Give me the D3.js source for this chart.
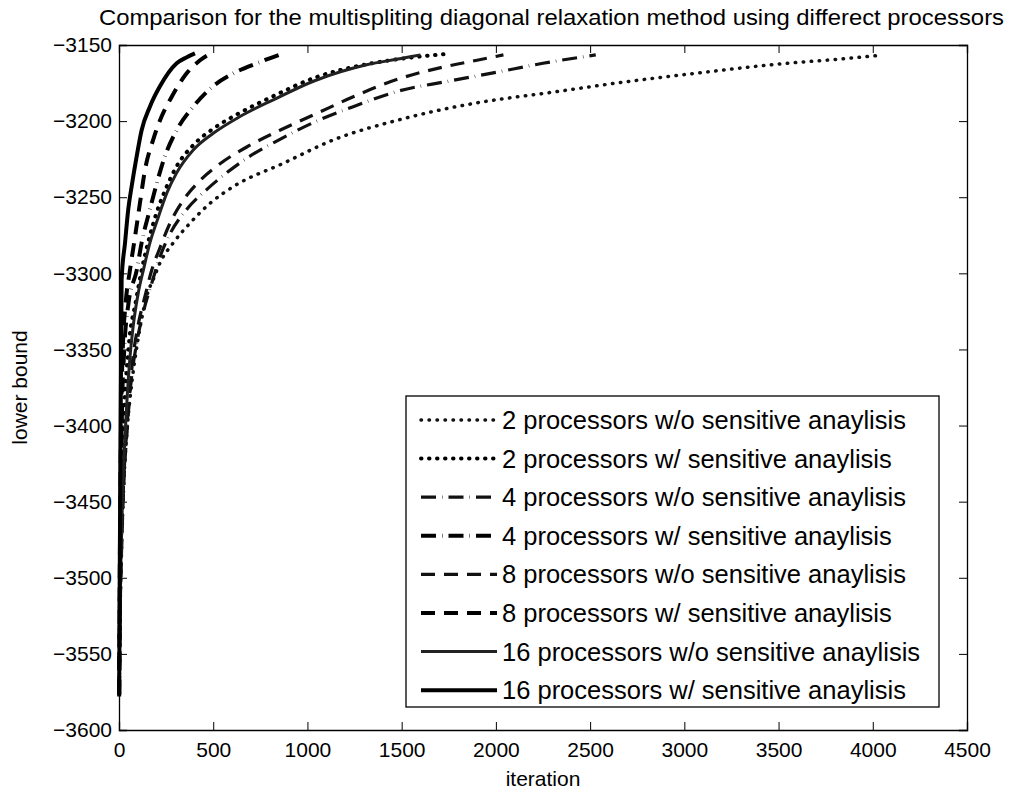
<!DOCTYPE html>
<html>
<head>
<meta charset="utf-8">
<script src="https://cdn.jsdelivr.net/npm/d3@7"></script>
<style>
  body { margin: 0; background: #fff; }
  svg { display: block; font-family: "Liberation Sans", Arial, sans-serif; }
</style>
</head>
<body>
<script>
// series (iteration, lower bound)
const iter2wo = [1, 5, 12, 25, 45, 70, 100, 120, 147, 185, 218, 288, 377, 483, 607, 872, 1137, 1491, 1703, 1900, 2300, 2700, 3100, 3500, 3800, 4020];
const val2wo = [-3575, -3530, -3490, -3440, -3400, -3370, -3344, -3330, -3315, -3303, -3293, -3280, -3267, -3254, -3243, -3227.7, -3212.4, -3199, -3192.7, -3188, -3181, -3174, -3168, -3162.5, -3159.5, -3157];

const iter2w = [1, 5, 12, 25, 50, 90, 120, 160, 200, 250, 300, 400, 500, 650, 820, 1050, 1300, 1500, 1733];
const val2w = [-3576, -3520, -3460, -3400, -3350, -3318, -3298, -3277, -3260, -3244, -3231, -3215, -3205, -3194, -3183.5, -3171, -3163, -3159, -3156];

const iter4wo = [1, 4, 10, 22, 40, 65, 95, 130, 173.5, 218, 271, 359, 465, 571, 695, 854, 1031, 1243, 1491, 1739, 2000, 2250, 2530];
const val4wo = [-3576, -3535, -3495, -3445, -3405, -3370, -3345, -3325, -3306.6, -3289, -3274, -3258, -3245, -3234, -3223, -3212, -3201, -3190.5, -3180, -3174, -3168, -3162, -3156.5];

const iter4w = [1, 4, 9, 16, 28, 50, 94, 120, 164, 200, 244, 306, 394, 500, 607, 731, 872];
const val4w = [-3577, -3520, -3450, -3390, -3350, -3320, -3298, -3280, -3258, -3241, -3223, -3206, -3190.5, -3177, -3168.6, -3162, -3155.5];

const iter8wo = [1, 5, 12, 25, 45, 70, 100, 138, 173.5, 218, 271, 341, 430, 536, 678, 854, 1049, 1243, 1491, 1739, 1900, 2040];
const val8wo = [-3575, -3530, -3490, -3440, -3400, -3360, -3335, -3315, -3298, -3283, -3267, -3252, -3239, -3228, -3217, -3206, -3195, -3184, -3172, -3164, -3160, -3156.5];

const iter8w = [1, 3, 7, 12, 20, 35, 58, 85, 111, 138, 182, 226, 280, 359, 430, 495];
const val8w = [-3576, -3520, -3450, -3390, -3350, -3320, -3298, -3276, -3254, -3232, -3212, -3197, -3184, -3168.6, -3160, -3155];

const iter16wo = [1, 4, 10, 20, 35, 55, 75, 102, 129, 164, 209, 253, 306, 394, 500, 642, 819, 1049, 1314, 1490, 1600];
const val16wo = [-3575, -3530, -3490, -3440, -3400, -3360, -3335, -3313, -3298, -3280, -3263, -3247.5, -3234, -3219, -3208, -3197, -3186, -3173, -3163, -3159, -3156.5];

const iter16w = [1, 3, 6, 9, 12, 14, 32, 49, 67, 94, 120, 164, 218, 306, 360, 403];
const val16w = [-3578, -3520, -3450, -3390, -3340, -3304, -3280, -3258, -3243, -3223, -3206, -3190.5, -3177, -3162, -3158, -3155.5];

const labels = [
  "2 processors w/o sensitive anaylisis",
  "2 processors w/ sensitive anaylisis",
  "4 processors w/o sensitive anaylisis",
  "4 processors w/ sensitive anaylisis",
  "8 processors w/o sensitive anaylisis",
  "8 processors w/ sensitive anaylisis",
  "16 processors w/o sensitive anaylisis",
  "16 processors w/ sensitive anaylisis"
];
const xTicks = [0, 500, 1000, 1500, 2000, 2500, 3000, 3500, 4000, 4500];
const yTicks = [-3600, -3550, -3500, -3450, -3400, -3350, -3300, -3250, -3200, -3150];

const width = 1011, height = 792;
const margin = { top: 45, right: 44, bottom: 62, left: 119 };

const dotted = "0.5,7.5", dashdot = "15,6,0.5,6", dashed = "14,9";
const series = [
  { it: iter2wo, v: val2wo, dash: dotted, w: 3.5, c: "#111" },
  { it: iter2w, v: val2w, dash: dotted, w: 4, c: "#000" },
  { it: iter4wo, v: val4wo, dash: dashdot, w: 3.2, c: "#111" },
  { it: iter4w, v: val4w, dash: dashdot, w: 4, c: "#000" },
  { it: iter8wo, v: val8wo, dash: dashed, w: 3.2, c: "#111" },
  { it: iter8w, v: val8w, dash: dashed, w: 4, c: "#000" },
  { it: iter16wo, v: val16wo, dash: null, w: 3, c: "#222" },
  { it: iter16w, v: val16w, dash: null, w: 4, c: "#000" }
];
series.forEach((s, i) => {
  s.label = labels[i];
  s.pts = s.it.map((d, j) => [d, s.v[j]]);
});

const svg = d3.select("body").append("svg")
  .attr("width", width)
  .attr("height", height);

const x = d3.scaleLinear().domain([0, 4500]).range([margin.left, width - margin.right]);
const y = d3.scaleLinear().domain([-3600, -3150]).range([height - margin.bottom, margin.top]);

const fmt = d => d < 0 ? "\u2212" + Math.abs(d) : String(d);
const tick = 8;

// axes with inward ticks on all four sides
svg.append("g")
  .attr("transform", `translate(0,${y(-3600)})`)
  .call(d3.axisBottom(x).tickValues(xTicks).tickSize(-tick).tickPadding(12).tickFormat(fmt))
  .call(g => g.selectAll("text").style("font-size", "21px"));
svg.append("g")
  .attr("transform", `translate(0,${y(-3150)})`)
  .call(d3.axisTop(x).tickValues(xTicks).tickSize(-tick).tickFormat(""));
svg.append("g")
  .attr("transform", `translate(${x(0)},0)`)
  .call(d3.axisLeft(y).tickValues(yTicks).tickSize(-tick).tickPadding(7).tickFormat(fmt))
  .call(g => g.selectAll("text").style("font-size", "21px"));
svg.append("g")
  .attr("transform", `translate(${x(4500)},0)`)
  .call(d3.axisRight(y).tickValues(yTicks).tickSize(-tick).tickFormat(""));
svg.selectAll(".domain").attr("stroke", "#000").attr("stroke-width", 1.3);
svg.selectAll(".tick line").attr("stroke", "#000");
svg.selectAll(".tick text").attr("fill", "#000");

const line = d3.line()
  .x(d => x(d[0]))
  .y(d => y(d[1]))
  .curve(d3.curveMonotoneX);

const capOf = d => d.dash === dotted ? "round" : "butt";

svg.append("g").selectAll("path")
  .data(series)
  .join("path")
  .attr("d", d => line(d.pts))
  .attr("fill", "none")
  .attr("stroke", d => d.c)
  .attr("stroke-width", d => d.w)
  .attr("stroke-linecap", capOf)
  .attr("stroke-dasharray", d => d.dash);

// legend
const lg = svg.append("g").attr("transform", "translate(406,396)");
lg.append("rect")
  .attr("width", 533).attr("height", 311)
  .attr("fill", "#fff").attr("stroke", "#000").attr("stroke-width", 1.3);
const row = lg.selectAll("g.row")
  .data(series)
  .join("g")
  .attr("class", "row")
  .attr("transform", (d, i) => `translate(0,${24 + i * 38.6})`);
row.append("line")
  .attr("x1", 15).attr("x2", 91)
  .attr("stroke", d => d.c)
  .attr("stroke-width", d => d.w)
  .attr("stroke-linecap", capOf)
  .attr("stroke-dasharray", d => d.dash);
row.append("text")
  .attr("x", 96)
  .attr("dy", "0.35em")
  .style("font-size", "25.5px")
  .text(d => d.label);

svg.append("text")
  .attr("x", 99).attr("y", 25)
  .attr("textLength", 905)
  .attr("lengthAdjust", "spacingAndGlyphs")
  .style("font-size", "22px")
  .text("Comparison for the multispliting diagonal relaxation method using differect processors");

svg.append("text")
  .attr("x", (x(0) + x(4500)) / 2).attr("y", 786)
  .attr("text-anchor", "middle")
  .style("font-size", "21px")
  .text("iteration");

svg.append("text")
  .attr("transform", `translate(27,${(y(-3150) + y(-3600)) / 2}) rotate(-90)`)
  .attr("text-anchor", "middle")
  .style("font-size", "21px")
  .text("lower bound");
</script>
</body>
</html>
